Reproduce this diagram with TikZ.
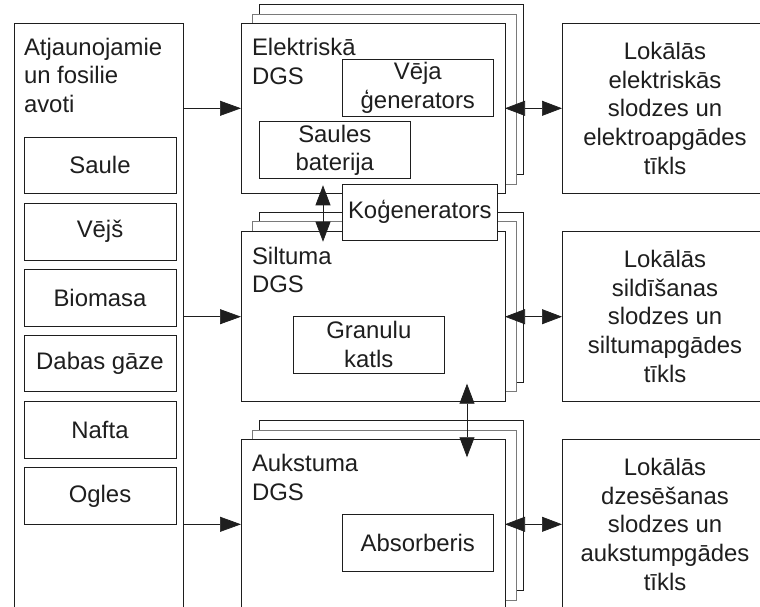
\documentclass[tikz,border=0pt]{standalone}
\usepackage{fontspec}
\setmainfont{Liberation Sans}
\usetikzlibrary{arrows.meta,calc}

\definecolor{ink}{HTML}{1E1E1E}
\definecolor{midlayer}{HTML}{7A7A7A}

\begin{document}
\begin{tikzpicture}[x=1pt,y=-1pt,
  every node/.style={inner sep=0pt, outer sep=0pt, text=ink,
    font=\fontsize{23.9}{28.7}\selectfont},
  frame/.style={draw=ink, line width=0.8pt, fill=white, anchor=north west},
  backframe/.style={frame},
  midframe/.style={frame, draw=midlayer},
  stackbox/.style={frame, minimum width=264pt, minimum height=170pt},
  inbox/.style={frame, align=center},
  srcitem/.style={frame, minimum width=152pt, minimum height=56.7pt},
  loadbox/.style={frame, minimum width=206pt, minimum height=170pt, align=center},
  % multi-line titles: the base anchor sits on the last line
  title/.style={anchor=base west, align=left},
  arr/.style={draw=ink, line width=0.7pt, -{Triangle[length=21pt,width=15pt]}},
  darr/.style={draw=ink, line width=0.7pt,
    {Triangle[length=20pt,width=15pt]}-{Triangle[length=20pt,width=15pt]}}
]
\useasboundingbox (0,0) rectangle (760,606);

% energy sources column (open at the bottom)
\node[frame, minimum width=169pt, minimum height=610pt] (src) at (14,23) {};
\node[title] (srcT) at ($(src.north west)+(10,89.6)$) {Atjaunojamie\\un fosilie\\avoti};
\node[srcitem] (saule)  at (24,137)   {Saule};
\node[srcitem] (vejs)   at (24,203.3) {Vējš};
\node[srcitem] (biom)   at (24,269.3) {Biomasa};
\node[srcitem] (gaze)   at (24,335)   {Dabas gāze};
\node[srcitem] (nafta)  at (24,401.3) {Nafta};
\node[srcitem] (ogles)  at (24,467.5) {Ogles};

% electrical DGS stack
\node[stackbox, backframe] (elek3) at (259,4.5) {};
\node[stackbox, midframe]  (elek2) at (252,14) {};
\node[stackbox]            (elek)  at (241,23.3) {};
\node[title] (elekT) at ($(elek.north west)+(11,61.2)$) {Elektriskā\\DGS};
\node[inbox, minimum width=151pt, minimum height=57pt] (veja) at (342.3,59.3) {Vēja\\ģenerators};
\node[inbox, minimum width=151pt, minimum height=57pt] (saulb) at (259.3,121.7) {Saules\\baterija};

% heat DGS stack
\node[stackbox, backframe] (silt3) at (259,212.7) {};
\node[stackbox, midframe]  (silt2) at (252,221.7) {};
\node[stackbox]            (silt)  at (241,231.7) {};
\node[title] (siltT) at ($(silt.north west)+(11,61.2)$) {Siltuma\\DGS};
\node[inbox, minimum width=151pt, minimum height=57pt] (granul) at (293.3,316) {Granulu\\katls};

% cooling DGS stack
\node[stackbox, backframe] (auk3) at (259,420.7) {};
\node[stackbox, midframe]  (auk2) at (252,430) {};
\node[stackbox]            (auk)  at (241,439.3) {};
\node[title] (aukT) at ($(auk.north west)+(11,61.2)$) {Aukstuma\\DGS};
\node[inbox, minimum width=151pt, minimum height=57pt] (absorb) at (342.3,514.3) {Absorberis};

% cogeneration unit shared by the electrical and heat systems
\node[inbox, minimum width=155pt, minimum height=56pt] (kogen) at (342.3,184.3) {Koģenerators};

% local loads and networks (open at the right)
\node[loadbox] (loadA) at (562,23.3) {Lokālās\\elektriskās\\slodzes un\\elektroapgādes\\tīkls};
\node[loadbox] (loadB) at (562,231.3) {Lokālās\\sildīšanas\\slodzes un\\siltumapgādes\\tīkls};
\node[loadbox] (loadC) at (562,439.3) {Lokālās\\dzesēšanas\\slodzes un\\aukstumpgādes\\tīkls};

% supply from the sources
\draw[arr] (elek.west -| src.east) -- (elek.west);
\draw[arr] (silt.west -| src.east) -- (silt.west);
\draw[arr] (auk.west -| src.east) -- (auk.west);

% exchange with the local networks
\draw[darr] (elek.east) -- (elek.east -| loadA.west);
\draw[darr] (silt.east) -- (silt.east -| loadB.west);
\draw[darr] (auk.east) -- (auk.east -| loadC.west);

% links between the systems
\draw[darr] ($(elek.south west)+(82,-8)$) -- ($(silt.north west)+(82,10)$);
\draw[darr] ($(silt.south west)+(226,-18)$) -- ($(auk.north west)+(226,18)$);
\end{tikzpicture}
\end{document}
